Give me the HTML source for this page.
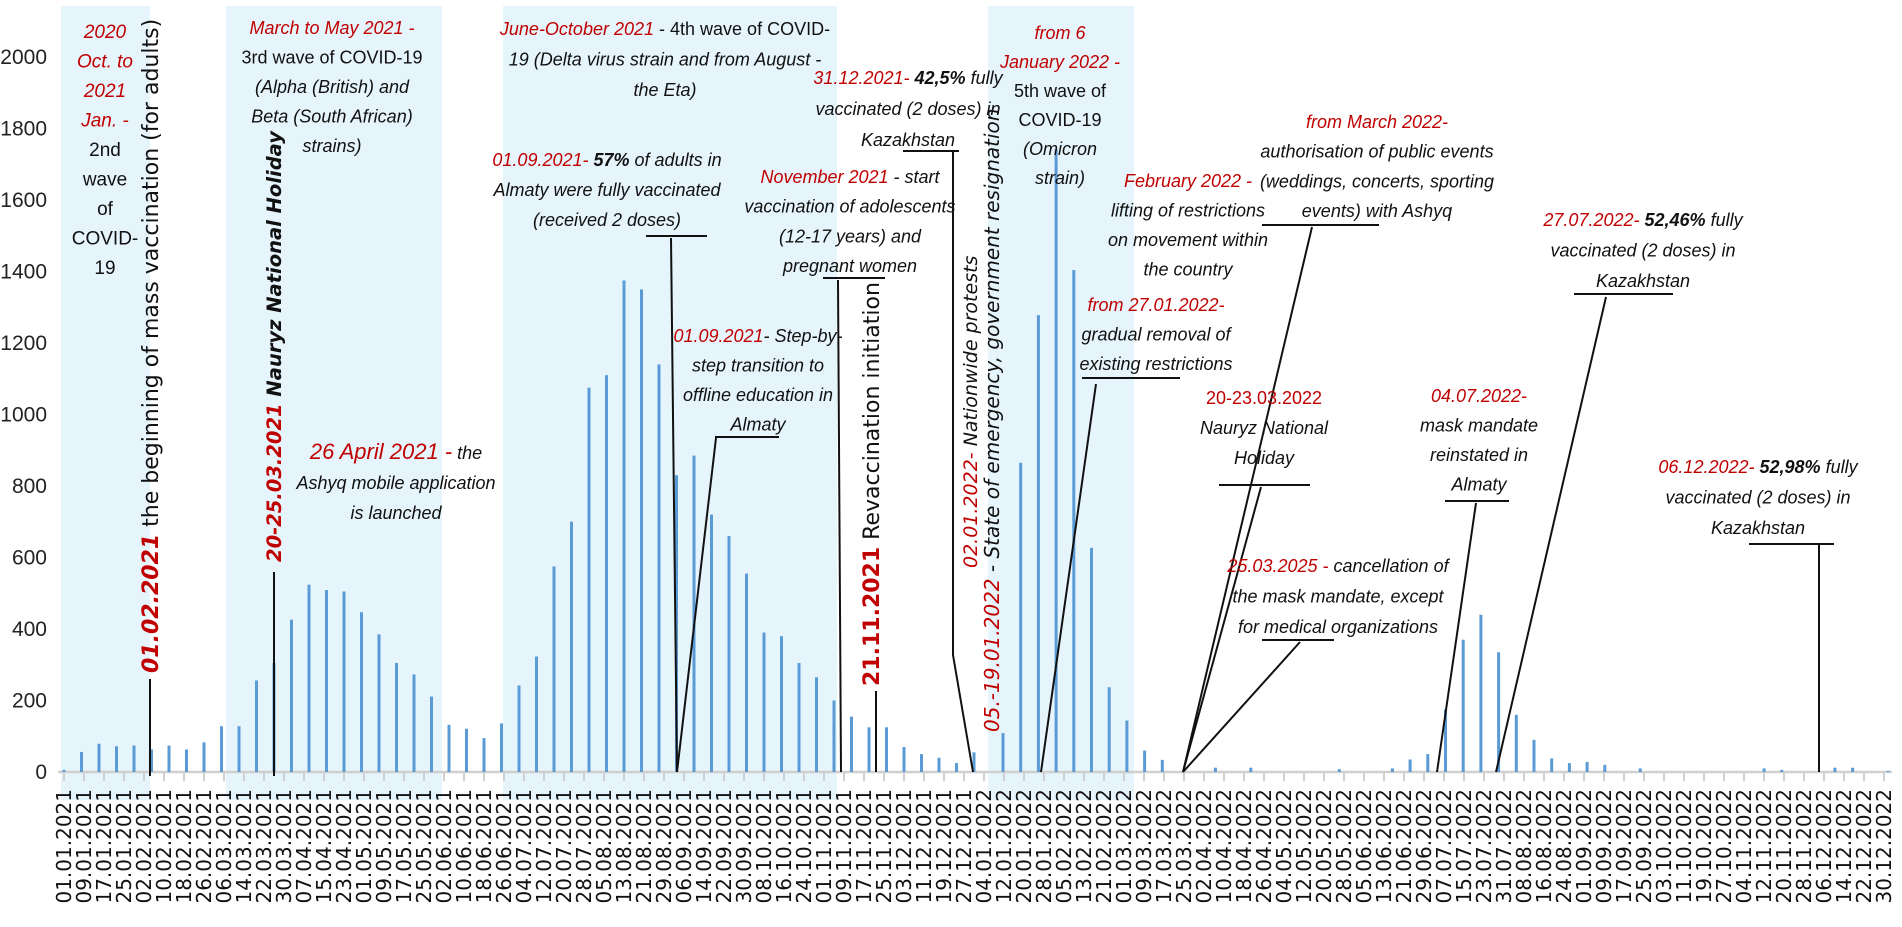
<!DOCTYPE html>
<html><head><meta charset="utf-8">
<style>
html,body{margin:0;padding:0;background:#fff;}
svg{display:block;}
</style></head>
<body>
<svg id="chart" width="1902" height="927" viewBox="0 0 1902 927" xmlns="http://www.w3.org/2000/svg">
<g id="bands"></g>
<g id="axes"></g>
<g id="bars"></g>
<g id="leaders"></g>
<g id="notes"></g>
</svg>
<script>
const yTicks=[0,200,400,600,800,1000,1200,1400,1600,1800,2000];
const weekValues2021=[6,56,79,72,74,63,74,63,83,128,128,256,305,426,524,509,505,447,385,305,273,211,132,121,95,136,242,323,575,700,1075,1110,1375,1350,1140,830,885,720,660,555,390,380,305,265,200,155,125,125,70,50,40,25,55];
const weekValues2022=[109,865,1278,1742,1404,627,237,144,60,34,0,0,12,0,12,0,0,0,0,8,0,0,10,35,50,175,370,440,335,160,90,38,25,28,20,0,10,0,0,0,0,0,0,10,6,0,0,12,12,0,3];
const labelStartDate=[2021,0,1];
const labelStepDays=8;
const labelCount=92;

const NS="http://www.w3.org/2000/svg";
const Y0=772, YTOP=57;
function yS(v){return Y0-(v/2000)*(Y0-YTOP);}
function xLabel(i){return 64+i*20.0;}
function xBar2021(j){return 64+j*17.5;}
function xBar2022(m){return 1003+m*17.7;}
function el(tag,attrs,parent){const e=document.createElementNS(NS,tag);for(const k in attrs)e.setAttribute(k,attrs[k]);parent.appendChild(e);return e;}

const xLabels=[];
for(let i=0;i<labelCount;i++){const d=new Date(Date.UTC(labelStartDate[0],labelStartDate[1],labelStartDate[2]+i*labelStepDays));
xLabels.push(String(d.getUTCDate()).padStart(2,'0')+'.'+String(d.getUTCMonth()+1).padStart(2,'0')+'.'+d.getUTCFullYear());}

const bands=document.getElementById('bands');
[[61,150],[226,442],[503,837],[988,1134]].forEach((b,i)=>{
const r=el('rect',{x:b[0],y:6,width:b[1]-b[0],height:794,fill:'#e6f4fb'},bands);


});

const axes=document.getElementById('axes');
yTicks.forEach(v=>{
const t=el('text',{x:47,y:yS(v)+7,'text-anchor':'end','font-family':'Liberation Sans, sans-serif','font-size':21,fill:'#222'},axes);
t.textContent=v;


});
const axisLine=el('line',{x1:58,y1:Y0,x2:1892,y2:Y0,stroke:'#d0d0d0','stroke-width':2.5},axes);


xLabels.forEach((lab,i)=>{
const x=xLabel(i);
const tk=el('line',{x1:x,y1:Y0,x2:x,y2:Y0+9,stroke:'#d0d0d0','stroke-width':2},axes);


const t=el('text',{x:0,y:0,transform:`translate(${x+7},789) rotate(-90)`,'text-anchor':'end','font-family':'DejaVu Sans, sans-serif','font-size':20,fill:'#111'},axes);
t.textContent=lab;


});

const bars=document.getElementById('bars');
weekValues2021.forEach((v,j)=>{
const x=xBar2021(j);
const r=el('rect',{x:x-1.5,y:yS(v),width:3,height:Y0-yS(v),fill:'#5b9bd5'},bars);


});
weekValues2022.forEach((v,m)=>{
const x=xBar2022(m);
const r=el('rect',{x:x-1.5,y:yS(v),width:3,height:Y0-yS(v),fill:'#5b9bd5'},bars);


});

const leaders=document.getElementById('leaders');
const polylines=[
[[150,679],[150,776]],
[[274,572],[274,776]],
[[646,236],[707,236]],[[671,238],[677,772]],
[[823,278],[885,278]],[[838,280],[841,772]],
[[903,151],[959,151]],[[953,152],[953,655],[973,772]],
[[876,691],[876,772]],
[[715,437],[779,437]],[[716,438],[677,772]],
[[1082,378],[1180,378]],[[1096,384],[1041,772]],
[[1262,225],[1379,225]],[[1312,227],[1183,772]],
[[1219,485],[1310,485]],[[1261,487],[1183,772]],
[[1262,640],[1334,640]],[[1300,642],[1183,772]],
[[1445,501],[1509,501]],[[1476,503],[1437,772]],
[[1574,294],[1673,294]],[[1606,297],[1496,772]],
[[1749,544],[1834,544]],[[1819,545],[1819,772]]
];
polylines.forEach(p=>{
const l=el('polyline',{points:p.map(q=>q.join(',')).join(' '),fill:'none',stroke:'#111','stroke-width':2},leaders);


});

const notes=document.getElementById('notes');
const RED='#c00000';
function note(name,cx,y0,lh,lines,size){
const g=el('g',{},notes);


lines.forEach((segs,i)=>{
const t=el('text',{x:cx,y:y0+i*lh,'text-anchor':'middle','font-family':'Liberation Sans, sans-serif','font-size':size||18,fill:'#111'},g);
segs.forEach(s=>{const ts=el('tspan',{},t);ts.textContent=s[0];
if(s[1].includes('r'))ts.setAttribute('fill',RED);
if(s[1].includes('i'))ts.setAttribute('font-style','italic');
if(s[1].includes('b'))ts.setAttribute('font-weight','bold');
if(s[1].includes('L'))ts.setAttribute('font-size',22);});
});
}
function vnote(name,bx,by,segs,size){
const t=el('text',{x:0,y:0,transform:`translate(${bx},${by}) rotate(-90)`,'font-family':'DejaVu Sans, sans-serif','font-size':size,fill:'#111'},notes);


segs.forEach(s=>{const ts=el('tspan',{},t);ts.textContent=s[0];
if(s[1].includes('r'))ts.setAttribute('fill',RED);
if(s[1].includes('i'))ts.setAttribute('font-style','italic');
if(s[1].includes('b'))ts.setAttribute('font-weight','bold');});
}
note('second-wave-note',105,38,29.5,[[['2020','ri']],[['Oct. to','ri']],[['2021','ri']],[['Jan. -','ri']],[['2nd','']],[['wave','']],[['of','']],[['COVID-','']],[['19','']]],19);
note('third-wave-note',332,34,29.5,[[['March to May 2021 -','ri']],[['3rd wave of COVID-19','']],[['(Alpha (British) and','i']],[['Beta (South African)','i']],[['strains)','i']]],18);
note('ashyq-launch-note',396,459,30,[[['26 April 2021 -','riL'],['  the','i']],[['Ashyq mobile application','i']],[['is launched','i']]],18);
note('fourth-wave-note',665,35,30.5,[[['June-October 2021','ri'],[' - 4th wave of COVID-','']],[['19 ','i'],['(Delta virus strain and from August -','i']],[['the Eta)','i']]],18);
note('adults-vaccinated-note',607,166,30,[[['01.09.2021-  ','ri'],['57%','bi'],[' of adults in','i']],[['Almaty were fully vaccinated','i']],[['(received 2 doses)','i']]],18);
note('adolescents-note',850,183,29.7,[[['November 2021','ri'],[' - start','i']],[['vaccination of adolescents','i']],[['(12-17 years) and','i']],[['pregnant women','i']]],18);
note('kazakhstan-42-note',908,84,31,[[['31.12.2021-  ','ri'],['42,5%','bi'],[' fully','i']],[['vaccinated (2 doses) in','i']],[['Kazakhstan','i']]],18);
note('offline-education-note',758,342,29.5,[[['01.09.2021','ri'],['- Step-by-','i']],[['step transition to','i']],[['offline education in','i']],[['Almaty','i']]],18);
note('fifth-wave-note',1060,39,29,[[['from 6','ri']],[['January 2022 -','ri']],[['5th wave of','']],[['COVID-19','']],[['(Omicron','i']],[['strain)','i']]],18);
note('february-lifting-note',1188,187,29.5,[[['February 2022 -','ri']],[['lifting of restrictions','i']],[['on movement within','i']],[['the country','i']]],18);
note('gradual-removal-note',1156,311,29.5,[[['from 27.01.2022-','ri']],[['gradual removal of','i']],[['existing restrictions','i']]],18);
note('public-events-note',1377,128,29.7,[[['from March 2022-','ri']],[['authorisation of public events','i']],[['(weddings, concerts, sporting','i']],[['events) with Ashyq','i']]],18);
note('nauryz-2022-note',1264,404,30,[[['20-23.03.2022','r']],[['Nauryz National','i']],[['Holiday','i']]],18);
note('mask-cancel-note',1338,572,30.5,[[['25.03.2025 -','ri'],[' cancellation of','i']],[['the mask mandate, except','i']],[['for medical organizations','i']]],18);
note('mask-reinstated-note',1479,402,29.5,[[['04.07.2022-','ri']],[['mask mandate','i']],[['reinstated in','i']],[['Almaty','i']]],18);
note('kazakhstan-5246-note',1643,226,30.5,[[['27.07.2022-  ','ri'],['52,46%','bi'],[' fully','i']],[['vaccinated (2 doses) in','i']],[['Kazakhstan','i']]],18);
note('kazakhstan-5298-note',1758,473,30.5,[[['06.12.2022-  ','ri'],['52,98%','bi'],[' fully','i']],[['vaccinated (2 doses) in','i']],[['Kazakhstan','i']]],18);
vnote('mass-vaccination-label',158,673,[['01.02.2021','rbi'],['  the beginning of mass vaccination (for adults)','']],22);
vnote('nauryz-2021-label',281,562,[['20-25.03.2021','rbi'],['   Nauryz National Holiday','bi']],19.5);
vnote('revaccination-label',879,686,[['21.11.2021','rb'],[' Revaccination initiation','']],22);
vnote('protests-label',977,568,[['02.01.2022-','ri'],[' Nationwide protests','i']],19);
vnote('state-emergency-label',999,732,[['05.-19.01.2022','ri'],[' - State of emergency, government resignation','i']],20);
</script>
</body></html>
